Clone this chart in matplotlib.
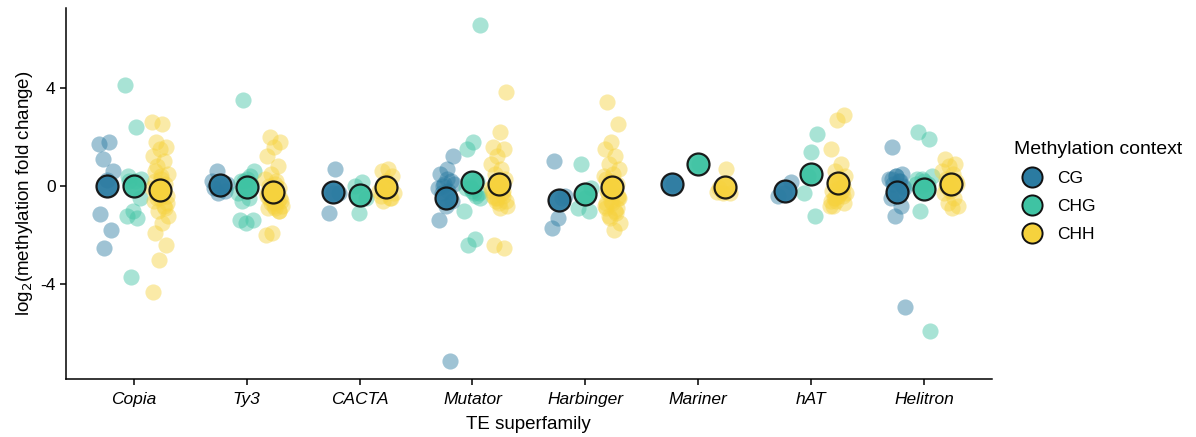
import numpy as np
import matplotlib.pyplot as plt
from matplotlib.lines import Line2D

plt.rcParams['font.family'] = ['Liberation Sans', 'DejaVu Sans']

families = ['Copia', 'Ty3', 'CACTA', 'Mutator', 'Harbinger', 'Mariner', 'hAT', 'Helitron']
contexts = ['CG', 'CHG', 'CHH']
colors = {'CG': '#2b7ba1', 'CHG': '#3fc3a3', 'CHH': '#f6d23d'}

# log2 fold change per TE
cg = {
    'Copia': [1.7, 1.8, 1.1, 0.6, 0.25, -1.15, -1.8, -2.5],
    'Ty3': [0.6, 0.1, 0.0, -0.1, -0.2, -0.3, 0.2],
    'CACTA': [0.7, -1.1, -0.3, -0.3],
    'Mutator': [1.2, 0.7, 0.5, 0.2, 0.1, -0.1, -0.2, -0.3, -0.6, -0.8, -1.4, -7.1, 0.0, 0.1, 0.3],
    'Harbinger': [1.0, -0.4, -1.3, -1.7, -0.5],
    'Mariner': [0.1],
    'hAT': [0.15, -0.3, -0.4],
    'Helitron': [1.6, 0.5, 0.4, 0.3, 0.2, 0.1, -0.1, -0.3, -0.5, -0.8, -1.2, -4.9, 0.2, 0.3, 0.0, 0.4],
}
chg = {
    'Copia': [4.1, 2.4, 0.2, -0.5, -1.0, -1.2, -1.3, -3.7, 0.3, 0.2, 0.4],
    'Ty3': [3.5, 0.6, 0.3, 0.2, 0.1, -0.1, -0.3, -0.5, -0.6, -1.4, -1.5, -1.4, 0.4, 0.2],
    'CACTA': [0.15, 0.0, -0.5, -1.1],
    'Mutator': [6.55, 1.78, 1.5, 0.2, -0.1, -1.0, -2.15, -2.4, -0.3, -0.2, -0.1, -0.4, 0.0, -0.5, -0.3],
    'Harbinger': [0.9, -0.1, -0.5, -0.9, -1.0],
    'Mariner': [0.9],
    'hAT': [2.1, 1.4, -0.3, -1.2, 0.4],
    'Helitron': [2.2, 1.9, 0.3, 0.1, -0.2, -1.0, -5.9, 0.2, 0.3, 0.1, 0.0, 0.4],
}
chh = {
    'Copia': [2.6, 2.5, 1.8, 1.6, 1.5, 1.2, 1.0, 0.8, 0.5, 0.3, 0.2, 0.1, 0.0, -0.1, -0.2,
              -0.3, -0.4, -0.5, -0.6, -0.8, -1.0, -1.2, -1.5, -1.9, -2.4, -3.0, -4.3,
              -0.3, -0.5, -0.7, 0.4, 0.6, -0.9],
    'Ty3': [2.0, 1.8, 1.6, 1.2, 0.8, 0.5, 0.3, 0.1, 0.0, -0.1, -0.2, -0.3, -0.4, -0.5, -0.6,
            -0.7, -0.9, -1.0, -1.9, -2.0, 0.2, -0.3, -0.5, -0.8, -0.4, -0.6, -0.7, -0.8,
            -0.9, -0.5, -1.0, -0.6],
    'CACTA': [0.7, 0.6, 0.4, 0.2, -0.2, -0.5, -0.6, -0.3, 0.0, -0.4, -0.5],
    'Mutator': [3.8, 2.2, 1.6, 1.5, 1.2, 0.9, 0.7, 0.5, 0.3, 0.1, -0.2, -0.4, -0.6, -0.8,
                -0.9, -2.4, -2.5, 0.0, -0.1, -0.3, -0.5, -0.6, -0.7, -0.4, -0.2, -0.5],
    'Harbinger': [3.4, 2.5, 1.8, 1.5, 1.2, 0.9, 0.7, 0.5, 0.3, 0.1, 0.2, 0.4, -0.1, -0.3,
                  -0.5, -0.7, -0.9, -1.1, -1.3, -1.5, -1.8, -0.2, -0.4, -0.6, -0.8, -1.0,
                  -1.2, -0.5, -0.3, -0.7, -0.9],
    'Mariner': [0.7, -0.1, -0.3, -0.3, -0.25],
    'hAT': [2.9, 2.7, 1.5, 0.9, 0.6, 0.4, 0.2, -0.2, -0.4, -0.6, -0.8, -0.3, -0.5, -0.7,
            -0.4, -0.6, -0.2, -0.5, -0.3, -0.1, -0.8, 0.0],
    'Helitron': [1.1, 0.9, 0.8, 0.6, 0.5, 0.3, 0.1, -0.1, -0.3, -0.5, -0.7, -0.8, -0.9,
                 0.0, 0.2, -0.2],
}
data = {'CG': cg, 'CHG': chg, 'CHH': chh}

fig = plt.figure(figsize=(11.96, 4.37), dpi=100)
ax = fig.add_axes([0.0552, 0.1327, 0.774, 0.849])

dodge = {'CG': -0.235, 'CHG': 0.0, 'CHH': 0.235}
for i, fam in enumerate(families):
    xc = i + 1
    for ctx in contexts:
        vals = np.array(data[ctx][fam])
        # deterministic jitter around the dodged position
        k = np.arange(len(vals))
        jit = ((k * 0.618034 + 0.31 * i) % 1 - 0.5) * 0.15
        ax.scatter(xc + dodge[ctx] + jit, vals, s=135, color=colors[ctx],
                   alpha=0.45, linewidths=0, zorder=2)
    for ctx in contexts:
        m = np.mean(data[ctx][fam])
        ax.scatter(xc + dodge[ctx], m, s=250, color=colors[ctx], alpha=0.95,
                   edgecolors='#111111', linewidths=1.6, zorder=3)

ax.set_xlim(0.4, 8.6)
ax.set_ylim(-7.84, 7.23)
ax.set_xticks(range(1, len(families) + 1))
ax.set_xticklabels(families, fontstyle='italic', fontsize=12.5)
ax.set_yticks([-4, 0, 4])
ax.set_yticklabels(['-4', '0', '4'], fontsize=12.5)
ax.tick_params(axis='both', direction='out', length=4.5, width=1.1, color='black', pad=3)
ax.tick_params(axis='x', pad=5)
ax.spines['top'].set_visible(False)
ax.spines['right'].set_visible(False)
ax.spines['left'].set_linewidth(1.1)
ax.spines['bottom'].set_linewidth(1.1)
ax.set_xlabel('TE superfamily', fontsize=13.5, labelpad=6)
ax.set_ylabel('log$_2$(methylation fold change)', fontsize=13.5, labelpad=4)

handles = [Line2D([], [], marker='o', linestyle='', markersize=14.5,
                  markerfacecolor=colors[c], markeredgecolor='#111111',
                  markeredgewidth=1.4, label=c) for c in contexts]
leg = fig.legend(handles=handles, title='Methylation context', loc='upper left',
                 bbox_to_anchor=(0.848, 0.677), frameon=False, fontsize=12.5,
                 title_fontsize=14, labelspacing=0.74, handletextpad=0.5,
                 borderaxespad=0, borderpad=0)
leg._legend_box.align = 'left'

fig.savefig('out.png', dpi=100)
